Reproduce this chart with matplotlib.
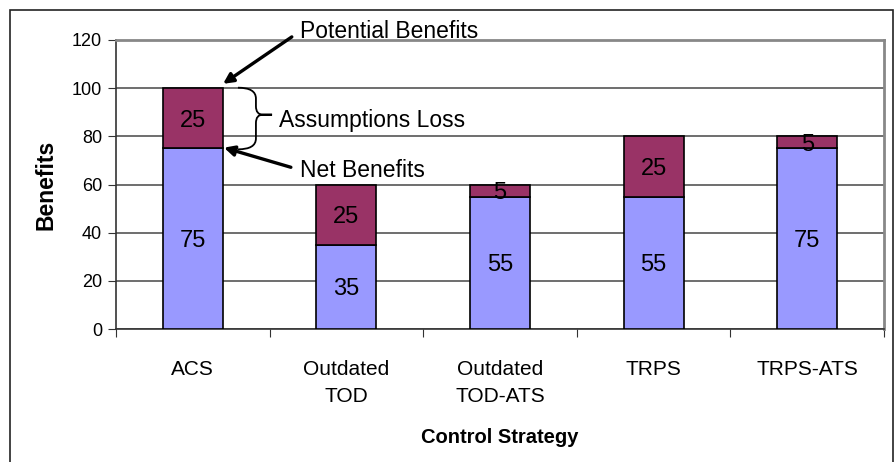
import matplotlib.pyplot as plt
from matplotlib.path import Path
from matplotlib.patches import PathPatch, Rectangle

# data
strategies = ['ACS', 'Outdated\nTOD', 'Outdated\nTOD-ATS', 'TRPS', 'TRPS-ATS']
net_benefits = [75, 35, 55, 55, 75]
assumption_loss = [25, 25, 5, 25, 5]

blue = '#9999FF'
maroon = '#993366'
plt.rcParams['font.family'] = ['Liberation Sans', 'DejaVu Sans']

fig = plt.figure(figsize=(8.94, 4.62), dpi=100)
ax = fig.add_axes([116 / 894, 133 / 462, 768 / 894, 289 / 462])

# outer chart frame
fig.patches.append(Rectangle((10 / 894, -0.05), 883 / 894, 1.05 - 10 / 462,
                             transform=fig.transFigure, fill=False,
                             edgecolor='#222222', lw=1.2))

x = list(range(len(strategies)))
ax.bar(x, net_benefits, width=0.39, color=blue, edgecolor='black', lw=1.2, zorder=3)
ax.bar(x, assumption_loss, width=0.39, bottom=net_benefits, color=maroon,
       edgecolor='black', lw=1.2, zorder=3)

for i in x:
    ax.text(i, net_benefits[i] / 2 - 1, str(net_benefits[i]), ha='center', va='center',
            fontsize=17, zorder=4)
    ax.text(i, net_benefits[i] + assumption_loss[i] / 2 - 1, str(assumption_loss[i]),
            ha='center', va='center', fontsize=17, zorder=4)

ax.set_xlim(-0.5, 4.5)
ax.set_ylim(0, 120)
ax.set_yticks(range(0, 121, 20))
ax.set_xticks([i - 0.5 for i in range(6)])
ax.set_xticklabels([])
ax.set_xticks(x, minor=True)
ax.set_xticklabels(strategies, minor=True, fontsize=15, linespacing=1.55)
ax.tick_params(axis='x', which='minor', length=0, pad=22)
ax.tick_params(axis='x', which='major', length=6, direction='out', color='#333333')
ax.tick_params(axis='y', length=6, direction='out', labelsize=13, pad=4, color='#333333')
ax.grid(axis='y', color='#555555', lw=1.2, zorder=0)

for side in ['top', 'right']:
    ax.spines[side].set_color('#888888')
    ax.spines[side].set_linewidth(2)
for side in ['left', 'bottom']:
    ax.spines[side].set_color('#333333')
    ax.spines[side].set_linewidth(1.2)

ax.set_ylabel('Benefits', fontsize=16.5, fontweight='bold', labelpad=10)
ax.set_xlabel('Control Strategy', fontsize=14.5, fontweight='bold')
ax.xaxis.set_label_coords(0.5, -0.342)

# annotations
arrow = dict(arrowstyle='-|>', color='black', lw=2.4, mutation_scale=15,
             relpos=(0, 0.5), shrinkA=5, shrinkB=0)
ax.annotate('Potential Benefits', xy=(0.197, 101.8), xytext=(0.70, 123.7),
            fontsize=16.5, va='center', ha='left', annotation_clip=False,
            arrowprops=arrow)
ax.annotate('Net Benefits', xy=(0.203, 75.3), xytext=(0.70, 66),
            fontsize=16.5, va='center', ha='left', arrowprops=arrow)

# curly brace next to the ACS loss segment
x0, x1, x2 = 0.294, 0.411, 0.516
yt, yb, ym = 100.2, 74.6, 89.0
verts = [(x0, yt), (x1, yt), (x1, yt - 4.5),
         (x1, ym + 3.5), (x1, ym), (x1 + 0.045, ym),
         (x2, ym),
         (x1 + 0.045, ym), (x1, ym), (x1, ym - 3.5),
         (x1, yb + 4.5), (x1, yb), (x0, yb)]
codes = [Path.MOVETO, Path.CURVE3, Path.CURVE3,
         Path.LINETO, Path.CURVE3, Path.CURVE3,
         Path.LINETO,
         Path.LINETO, Path.CURVE3, Path.CURVE3,
         Path.LINETO, Path.CURVE3, Path.CURVE3]
ax.add_patch(PathPatch(Path(verts, codes), fill=False, lw=1.3, zorder=5))
ax.text(0.56, 86.5, 'Assumptions Loss', fontsize=16.5, va='center', ha='left')

fig.savefig('out.png', dpi=100)
